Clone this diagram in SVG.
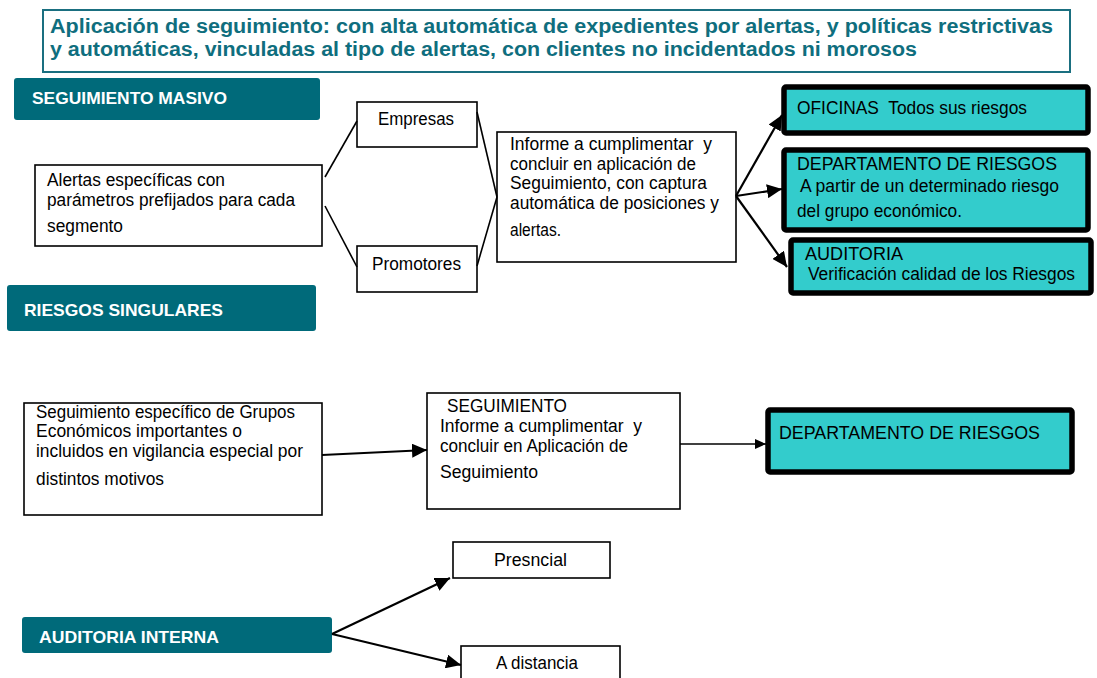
<svg xmlns="http://www.w3.org/2000/svg" width="1097" height="678" viewBox="0 0 1097 678">
<style>
text{font-family:"Liberation Sans",Arial,sans-serif;font-size:17.5px;fill:#000}
.title{font-weight:bold;font-size:20px;fill:#0f6e7e}
.hdr{font-weight:bold;font-size:17px;fill:#fff}
.hbox{fill:#006a7a}
.box{fill:#fff;stroke:#000;stroke-width:1.6}
.cbox{fill:#33cccc;stroke:#000;stroke-width:5.5}
.ln{fill:none;stroke:#000;stroke-width:1.6}
.ar{fill:none;stroke:#000;stroke-width:2.2}
</style>
<defs>
<marker id="ah" markerUnits="userSpaceOnUse" markerWidth="16" markerHeight="14" refX="15" refY="7" orient="auto">
<path d="M0,0 L15,7 L0,14 Z" fill="#000"/>
</marker>
<marker id="ahs" markerUnits="userSpaceOnUse" markerWidth="12" markerHeight="10" refX="11" refY="5" orient="auto">
<path d="M0,0 L11,5 L0,10 Z" fill="#000"/>
</marker>
</defs>

<g id="title">
<rect x="43" y="10" width="1027" height="62" fill="#fff" stroke="#1a6f80" stroke-width="2"/>
<text class="title" x="50" y="33" textLength="1003" lengthAdjust="spacingAndGlyphs">Aplicación de seguimiento: con alta automática de expedientes por alertas, y políticas restrictivas</text>
<text class="title" x="50" y="56" textLength="867" lengthAdjust="spacingAndGlyphs">y automáticas, vinculadas al tipo de alertas, con clientes no incidentados ni morosos</text>
</g>

<g id="seguimiento-masivo">
<rect class="hbox" x="14" y="78" width="306" height="42" rx="3"/>
<text class="hdr" x="32" y="104" textLength="195" lengthAdjust="spacingAndGlyphs">SEGUIMIENTO MASIVO</text>
</g>

<g id="alertas">
<rect class="box" x="35" y="165" width="287" height="81"/>
<text x="47" y="186" textLength="178" lengthAdjust="spacingAndGlyphs">Alertas específicas con</text>
<text x="47" y="206" textLength="248" lengthAdjust="spacingAndGlyphs">parámetros prefijados para cada</text>
<text x="47" y="232" textLength="76" lengthAdjust="spacingAndGlyphs">segmento</text>
</g>

<g id="empresas">
<rect class="box" x="357" y="102" width="120" height="45"/>
<text x="378" y="125" textLength="76" lengthAdjust="spacingAndGlyphs">Empresas</text>
</g>

<g id="promotores">
<rect class="box" x="357" y="246" width="120" height="46"/>
<text x="372" y="270" textLength="89" lengthAdjust="spacingAndGlyphs">Promotores</text>
</g>

<g id="informe">
<rect class="box" x="497" y="132" width="239" height="130"/>
<text x="510" y="150" textLength="202" lengthAdjust="spacingAndGlyphs" xml:space="preserve">Informe a cumplimentar  y</text>
<text x="510" y="170" textLength="186" lengthAdjust="spacingAndGlyphs">concluir en aplicación de</text>
<text x="510" y="189" textLength="197" lengthAdjust="spacingAndGlyphs">Seguimiento, con captura</text>
<text x="510" y="209" textLength="209" lengthAdjust="spacingAndGlyphs">automática de posiciones y</text>
<text x="510" y="236" textLength="51" lengthAdjust="spacingAndGlyphs">alertas.</text>
</g>

<g id="oficinas">
<rect class="cbox" x="784" y="87" width="304" height="46" rx="2"/>
<text x="797" y="114" textLength="230" lengthAdjust="spacingAndGlyphs" xml:space="preserve">OFICINAS  Todos sus riesgos</text>
</g>

<g id="departamento-riesgos-1">
<rect class="cbox" x="784" y="150" width="304" height="80" rx="2"/>
<text x="797" y="170" textLength="260" lengthAdjust="spacingAndGlyphs">DEPARTAMENTO DE RIESGOS</text>
<text x="800" y="192" textLength="259" lengthAdjust="spacingAndGlyphs">A partir de un determinado riesgo</text>
<text x="797" y="217" textLength="165" lengthAdjust="spacingAndGlyphs">del grupo económico.</text>
</g>

<g id="auditoria">
<rect class="cbox" x="791" y="240" width="300" height="53" rx="2"/>
<text x="805" y="260" textLength="98" lengthAdjust="spacingAndGlyphs">AUDITORIA</text>
<text x="808" y="280" textLength="267" lengthAdjust="spacingAndGlyphs">Verificación calidad de los Riesgos</text>
</g>

<g id="riesgos-singulares">
<rect class="hbox" x="7" y="285" width="309" height="46" rx="3"/>
<text class="hdr" x="24" y="316" textLength="199" lengthAdjust="spacingAndGlyphs">RIESGOS SINGULARES</text>
</g>

<g id="seguimiento-especifico">
<rect class="box" x="24" y="403" width="298" height="112"/>
<text x="36" y="418" textLength="259" lengthAdjust="spacingAndGlyphs">Seguimiento específico de Grupos</text>
<text x="36" y="437" textLength="206" lengthAdjust="spacingAndGlyphs">Económicos importantes o</text>
<text x="36" y="457" textLength="267" lengthAdjust="spacingAndGlyphs">incluidos en vigilancia especial por</text>
<text x="36" y="485" textLength="128" lengthAdjust="spacingAndGlyphs">distintos motivos</text>
</g>

<g id="seguimiento">
<rect class="box" x="427" y="393" width="253" height="116"/>
<text x="447" y="412" textLength="120" lengthAdjust="spacingAndGlyphs">SEGUIMIENTO</text>
<text x="440" y="432" textLength="202" lengthAdjust="spacingAndGlyphs" xml:space="preserve">Informe a cumplimentar  y</text>
<text x="440" y="452" textLength="188" lengthAdjust="spacingAndGlyphs">concluir en Aplicación de</text>
<text x="440" y="478" textLength="98" lengthAdjust="spacingAndGlyphs">Seguimiento</text>
</g>

<g id="departamento-riesgos-2">
<rect class="cbox" x="768" y="410" width="304" height="62" rx="2"/>
<text x="779" y="439" textLength="261" lengthAdjust="spacingAndGlyphs">DEPARTAMENTO DE RIESGOS</text>
</g>

<g id="presencial">
<rect class="box" x="453" y="542" width="157" height="36"/>
<text x="494" y="566" textLength="73" lengthAdjust="spacingAndGlyphs">Presncial</text>
</g>

<g id="a-distancia">
<rect class="box" x="461" y="646" width="159" height="33"/>
<text x="496" y="669" textLength="82" lengthAdjust="spacingAndGlyphs">A distancia</text>
</g>

<g id="auditoria-interna">
<rect class="hbox" x="22" y="617" width="310" height="36" rx="3"/>
<text class="hdr" x="39" y="643" textLength="180" lengthAdjust="spacingAndGlyphs">AUDITORIA INTERNA</text>
</g>

<g id="connectors">
<line class="ln" x1="325" y1="177" x2="357" y2="121"/>
<line class="ln" x1="325" y1="206" x2="357" y2="267"/>
<line class="ln" x1="477" y1="112" x2="497" y2="197"/>
<line class="ln" x1="477" y1="266" x2="497" y2="197"/>
<line class="ar" x1="736" y1="196" x2="782" y2="115" marker-end="url(#ah)"/>
<line class="ar" x1="736" y1="196" x2="782" y2="189" marker-end="url(#ah)"/>
<line class="ar" x1="736" y1="196" x2="787" y2="267" marker-end="url(#ah)"/>
<line class="ar" x1="322" y1="455" x2="427" y2="450" stroke-width="3" marker-end="url(#ah)"/>
<line class="ln" x1="680" y1="444" x2="766" y2="444" marker-end="url(#ahs)"/>
<line class="ar" x1="332" y1="634" x2="450" y2="578" stroke-width="2.6" marker-end="url(#ah)"/>
<line class="ar" x1="332" y1="634" x2="461" y2="665" stroke-width="2.6" marker-end="url(#ah)"/>
</g>
</svg>
